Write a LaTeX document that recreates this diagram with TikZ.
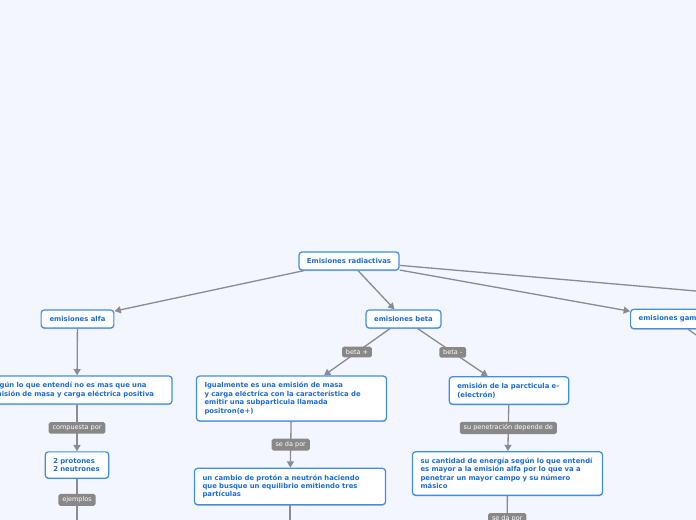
\documentclass[tikz,border=0pt]{standalone}
\usepackage{fontspec}
\setsansfont{DejaVu Sans}
\usepackage{tikz}
\usetikzlibrary{arrows.meta,shadows}

\definecolor{bgmap}{RGB}{243,246,254}
\definecolor{topicblue}{RGB}{28,108,214}
\definecolor{edgeblue}{RGB}{62,142,232}
\definecolor{linkgray}{RGB}{138,140,146}
\definecolor{taggray}{RGB}{136,136,136}

\begin{document}
\begin{tikzpicture}[x=0.02cm,y=-0.02cm,->,>={Triangle[length=3.6pt,width=4pt]},
        every edge/.append style={draw=linkgray,line width=0.75pt},
        topic/.style={draw=edgeblue,line width=0.7pt,fill=white,rounded corners=1.8pt,
            text=topicblue,font=\sffamily\bfseries\fontsize{3.9}{4.8}\selectfont,
            inner xsep=4.6pt,inner ysep=3.6pt,
            drop shadow={shadow xshift=0pt,shadow yshift=-0.6pt,fill=black,opacity=0.2}},
        note/.style={topic,align=left},
        tag/.style={draw=none,fill=taggray,text=white,rounded corners=1pt,
            font=\sffamily\fontsize{3.7}{4.4}\selectfont,inner xsep=2.2pt,inner ysep=1.6pt}]

    \useasboundingbox (0,0) rectangle (696,520);
    \fill[bgmap] (0,0) rectangle (696,520);

    \node[topic] (root) at (349,261) {Emisiones radiactivas};
    \node[topic, minimum width=41.4pt] (alfa) at (77.5,319) {emisiones alfa};
    \node[topic, minimum width=42.5pt] (beta) at (403.5,319) {emisiones beta};
    \node[topic, anchor=west] (gamma) at (630,319) {emisiones gamma};

    \node[note, text width=99pt] (alfadef) at (77,390) {Según lo que entendí no es mas que una\\emisión de masa y carga eléctrica positiva};
    \node[note, text width=27pt] (protones) at (77,465) {2 protones\\2 neutrones};
    \node[note, text width=99pt] (positron) at (291.5,398.5) {Igualmente es una emisión de masa\\y carga eléctrica con la característica de\\emitir una subparticula llamada\\positron(e+)};
    \node[note, text width=99.6pt] (cambio) at (290,486.5) {un cambio de protón a neutrón haciendo\\que busque un equilibrio emitiendo tres\\partículas};
    \node[note, text width=58.8pt] (electron) at (509,390.5) {emisión de la parcticula e-\\(electrón)};
    \node[note, text width=99pt] (energia) at (507.5,473.5) {su cantidad de energía según lo que entendí\\es mayor a la emisión alfa por lo que va a\\penetrar un mayor campo y su número\\másico};

    \coordinate (offroot) at (800,300);
    \coordinate (offgamma) at (760,380);
    \coordinate (alfanext) at (77,535);
    \coordinate (cambionext) at (290,545);
    \coordinate (energianext) at (507,560);

    \path
    (root) edge (alfa)
    (root) edge (beta)
    (root) edge (gamma)
    (root) edge (offroot)
    (gamma) edge (offgamma)
    (alfa) edge (alfadef)
    (alfadef) edge node[tag] {compuesta por} (protones)
    (protones) edge node[tag, pos=0.375] {ejemplos} (alfanext)
    (beta) edge node[tag] {beta +} (positron)
    (beta) edge node[tag] {beta -} (electron)
    (positron) edge node[tag] {se da por} (cambio)
    (cambio) edge (cambionext)
    (electron) edge node[tag] {su penetración depende de} (energia)
    (energia) edge node[tag, pos=0.36] {se da por} (energianext);

\end{tikzpicture}
\end{document}
